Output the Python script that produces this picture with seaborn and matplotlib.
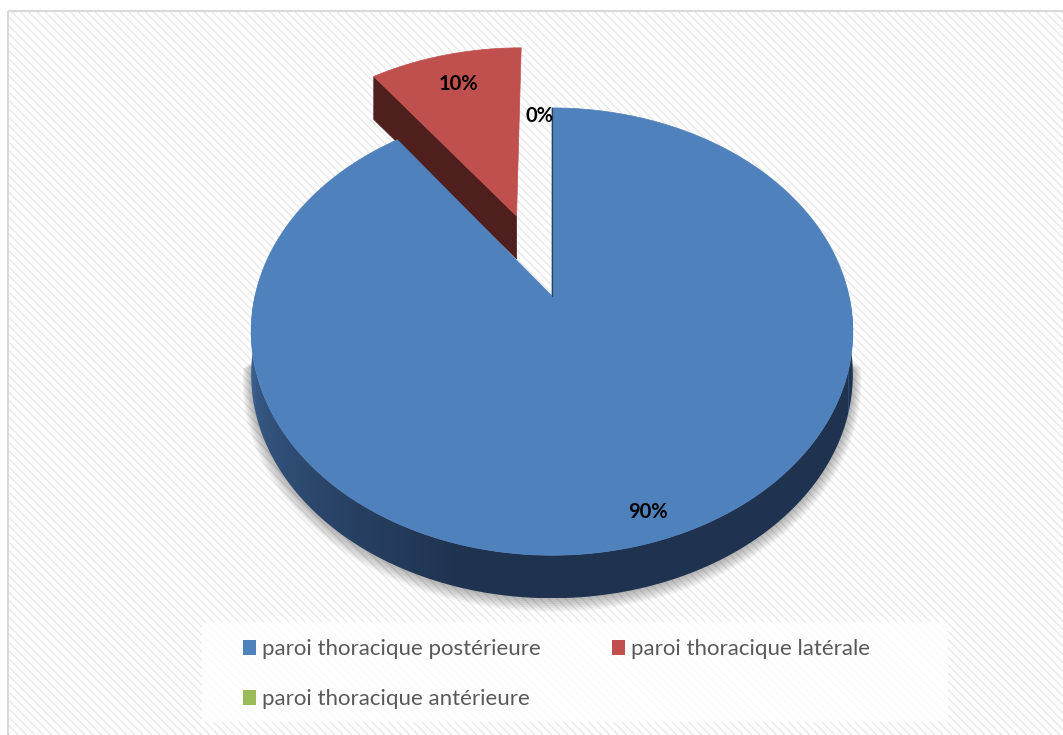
import numpy as np
import matplotlib
matplotlib.use('Agg')
import matplotlib.pyplot as plt
import seaborn as sns
from matplotlib.patches import Polygon, Rectangle, Patch
from matplotlib.colors import to_rgb

# ---------------- data ----------------
categories = ['paroi thoracique postérieure', 'paroi thoracique latérale', 'paroi thoracique antérieure']
values = [90, 10, 0]
pct_labels = ['90%', '10%', '0%']

# ---------------- style ----------------
colors = ['#4f81bd', '#c0504d', '#9bbb59']
cut_colors = ['#2c4a6e', '#4f1f1e', '#5d7035']
wall_light = ['#3e6595', '#8a3a38', '#6f8a3f']
wall_dark = ['#1f3350', '#4f1f1e', '#3f4f24']
explode = [0.0, 0.41, 0.0]
label_r = [0.9, 0.8, 0.95]

sns.set_theme(style='white')
plt.rcParams['font.family'] = ['Lato', 'DejaVu Sans']
plt.rcParams['hatch.linewidth'] = 1.0

W, H = 1063, 735
fig = plt.figure(figsize=(W / 100, H / 100), dpi=100)
ax = fig.add_axes([0, 0, 1, 1])

# perspective parameters of the 3-D pie (layout)
CX, CY, SX, SY, A, DEPTH = 552, 296, 297, 218, 0.159, 43


def proj(u, v):
    u = np.asarray(u, float)
    v = np.asarray(v, float)
    w = 1 + A * v
    return CX + SX * u / w, CY - SY * v / w


# background: hatched plot area + border
ax.add_patch(Rectangle((8, 11), W, H, facecolor='white', edgecolor='#e9e9e9',
                       hatch='\\\\\\\\', lw=0, zorder=0))
ax.add_patch(Rectangle((8, 11), W, H, fill=False, edgecolor='#d9d9d9', lw=1.5, zorder=0.5))

# soft shadow under the front of the pie
for i in range(1, 8):
    s = 1 + 0.004 * i
    th = np.radians(np.linspace(186, 354, 200))
    x, y = proj(s * np.cos(th), s * np.sin(th))
    y = y + DEPTH + 0.7 * i
    ax.add_patch(Polygon(np.column_stack([x, y]), closed=True, facecolor='black',
                         alpha=0.045, lw=0, zorder=0.8))

# slice angles (start at 12 o'clock, clockwise)
total = float(sum(values))
angles = []
start = 90.0
for val in values:
    end = start - 360.0 * val / total
    angles.append((start, end))
    start = end

draw_order = [1, 2, 0]
for z, i in enumerate(draw_order):
    t1, t2 = angles[i]
    if values[i] <= 0:
        continue
    mid = np.radians((t1 + t2) / 2)
    du, dv = explode[i] * np.cos(mid), explode[i] * np.sin(mid)
    zo = 2 + z

    # outer side wall (front half only), shaded with a horizontal gradient
    for k in (-1, 0, 1):
        lo = max(t2, -180 + 360 * k)
        hi = min(t1, 0 + 360 * k)
        if hi <= lo:
            continue
        th = np.linspace(lo, hi, 400)
        r = np.radians(th)
        xt, yt = proj(du + np.cos(r), dv + np.sin(r))
        poly = Polygon(np.column_stack([np.r_[xt, xt[::-1]], np.r_[yt, yt[::-1] + DEPTH]]),
                       closed=True, facecolor='none', edgecolor='none')
        ax.add_patch(poly)
        phi = th % 360
        f = np.clip((phi - 180) / 75, 0, 1)
        cl, cd = np.array(to_rgb(wall_light[i])), np.array(to_rgb(wall_dark[i]))
        order_x = np.argsort(xt)
        xs_sorted = xt[order_x]
        cols = np.linspace(xs_sorted[0], xs_sorted[-1], 600)
        ff = np.interp(cols, xs_sorted, f[order_x])
        img = (cl[None, :] * (1 - ff[:, None]) + cd[None, :] * ff[:, None])[None, :, :]
        img = np.repeat(img, 2, axis=0)
        im = ax.imshow(img, extent=(xs_sorted[0], xs_sorted[-1], yt.max() + DEPTH, yt.min()),
                       aspect='auto', interpolation='bilinear', zorder=zo)
        im.set_clip_path(poly)

    # radial cut faces (visible only when facing the viewer)
    for edge, nrm in ((t1, t1 + 90), (t2, t2 - 90)):
        if np.sin(np.radians(nrm)) < -1e-6 and explode[i] > 0:
            r = np.radians(edge)
            tx, ty = proj(du, dv)
            ox, oy = proj(du + np.cos(r), dv + np.sin(r))
            ax.add_patch(Polygon([[tx, ty], [ox, oy], [ox, oy + DEPTH], [tx, ty + DEPTH]],
                                 closed=True, facecolor=cut_colors[i], edgecolor=cut_colors[i],
                                 lw=0.5, zorder=zo))

    # top face
    th = np.radians(np.linspace(t1, t2, 300))
    xs, ys = proj(du + np.cos(th), dv + np.sin(th))
    tx, ty = proj(du, dv)
    pts = np.column_stack([np.r_[tx, xs], np.r_[ty, ys]])
    ax.add_patch(Polygon(pts, closed=True, facecolor=colors[i], edgecolor=colors[i],
                         lw=0.5, zorder=zo + 0.1))
    if i == 0:
        r = np.radians(t1)
        ex, ey = proj([du, du + np.cos(r)], [dv, dv + np.sin(r)])
        ax.plot(ex, ey, color='#2d3f57', lw=0.9, zorder=zo + 0.2)

# percentage labels
for i, lbl in enumerate(pct_labels):
    t1, t2 = angles[i]
    mid = np.radians((t1 + t2) / 2)
    du, dv = explode[i] * np.cos(mid), explode[i] * np.sin(mid)
    lx, ly = proj(du + label_r[i] * np.cos(mid), dv + label_r[i] * np.sin(mid))
    ha = 'center' if values[i] > 0 else 'right'
    ax.text(float(lx) + (1 if values[i] == 0 else 0), float(ly), lbl, ha=ha, va='center',
            fontsize=14.5, fontweight='bold', color='black', zorder=10)

# legend box and legend
ax.add_patch(Rectangle((202, 622), 746, 100, facecolor='white', alpha=0.8,
                       edgecolor='none', zorder=1))
order = [0, 2, 1]
handles = [Patch(facecolor=colors[j], edgecolor='none') for j in order]
labels = [categories[j] for j in order]
ax.legend(handles, labels, ncol=2, loc='upper left',
          bbox_to_anchor=(232 / W, 1 - 628 / H), bbox_transform=ax.transAxes,
          frameon=False, fontsize=16, labelcolor='#595959', borderpad=0,
          handlelength=0.59, handleheight=0.68, handletextpad=0.27,
          columnspacing=3.2, labelspacing=1.35)

ax.set_xlim(0, W)
ax.set_ylim(H, 0)
ax.axis('off')

fig.savefig('out.png', dpi=100)
